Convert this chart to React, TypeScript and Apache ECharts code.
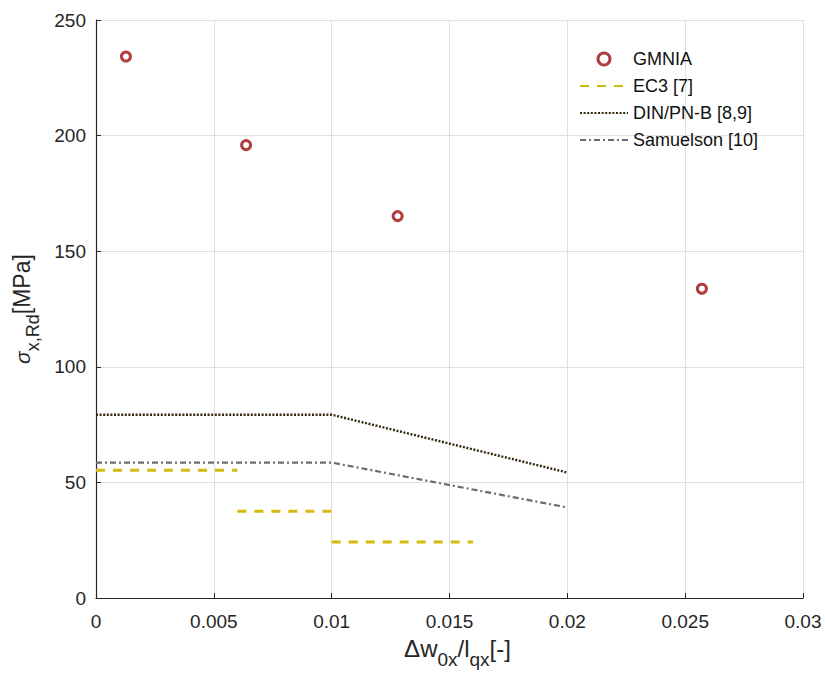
import React, { useEffect, useRef } from "react";
import * as echarts from "echarts";

// ---- data ----
const gmniaX = [0.00127, 0.00637, 0.0128, 0.02571];
const gmniaY = [234.2, 195.9, 165.2, 133.8];

const ec3Segments = [
  [0, 0.006],
  [0.006, 0.01],
  [0.01, 0.016],
];
const ec3Y = [55.3, 37.6, 24.3];

const dinX = [0, 0.01, 0.02];
const dinY = [79.3, 79.3, 54.3];

const samX = [0, 0.01, 0.02];
const samY = [58.6, 58.6, 39.2];

const xTicks = [0, 0.005, 0.01, 0.015, 0.02, 0.025, 0.03];
const yTicks = [0, 50, 100, 150, 200, 250];

const names = ["GMNIA", "EC3 [7]", "DIN/PN-B [8,9]", "Samuelson [10]"];

const FONT = "'Liberation Sans', Arial, Helvetica, sans-serif";
const AXIS_COLOR = "#262626";

export default function App() {
  const ref = useRef<HTMLDivElement>(null);

  useEffect(() => {
    document.body.style.margin = "0";
    if (!ref.current) return;
    const chart = echarts.init(ref.current, undefined, { renderer: "svg" });

    const ec3Series = ec3Segments.map((seg, i) => ({
      name: names[1],
      type: "line",
      data: seg.map((x) => [x, ec3Y[i]]),
      symbol: "none",
      lineStyle: { color: "#d4ba0c", width: 3, type: [9, 8] },
      itemStyle: { color: "#d4ba0c" },
      z: 3,
    }));

    const option: any = {
      animation: false,
      backgroundColor: "#ffffff",
      textStyle: { fontFamily: FONT },
      grid: { left: 96, right: 22, top: 20, bottom: 74.5, containLabel: false },
      legend: {
        orient: "vertical",
        left: 574,
        top: 45,
        itemWidth: 48,
        itemHeight: 12,
        itemGap: 9,
        data: [
          { name: names[0], itemStyle: { borderWidth: 3, borderColor: "#9c0d12", color: "#ffffff" } },
          { name: names[1], itemStyle: { opacity: 0 } },
          { name: names[2], itemStyle: { opacity: 0 } },
          { name: names[3], itemStyle: { opacity: 0 } },
        ],
        textStyle: { fontSize: 18, color: "#111", fontFamily: FONT },
      },
      xAxis: {
        type: "value",
        min: 0,
        max: 0.03,
        interval: 0.005,
        axisLine: { show: true, lineStyle: { color: AXIS_COLOR, width: 1.2 } },
        axisTick: { show: true, inside: true, length: 5, lineStyle: { color: AXIS_COLOR } },
        splitLine: { show: true, lineStyle: { color: "#dfdfdf", width: 1 } },
        axisLabel: {
          fontSize: 19,
          color: AXIS_COLOR,
          margin: 14,
          fontFamily: FONT,
          formatter: (v: number) => {
            const t = xTicks.find((k) => Math.abs(k - v) < 1e-9);
            return String(t !== undefined ? t : v);
          },
        },
        name: "{m|Δw}{s|0x}{m|/l}{s|qx}{m|[-]}",
        nameLocation: "middle",
        nameGap: 45,
        nameTextStyle: {
          padding: [0, 0, 0, 16],
          rich: {
            m: { fontSize: 24, lineHeight: 24, padding: [0, 0, 9, 0], verticalAlign: "bottom", color: AXIS_COLOR, fontFamily: FONT },
            s: { fontSize: 19, lineHeight: 19, verticalAlign: "bottom", color: AXIS_COLOR, fontFamily: FONT },
          },
        },
      },
      yAxis: {
        type: "value",
        min: 0,
        max: 250,
        interval: 50,
        axisLine: { show: true, lineStyle: { color: AXIS_COLOR, width: 1.2 } },
        axisTick: { show: true, inside: true, length: 5, lineStyle: { color: AXIS_COLOR } },
        splitLine: { show: true, lineStyle: { color: "#dfdfdf", width: 1 } },
        axisLabel: {
          fontSize: 19,
          color: AXIS_COLOR,
          margin: 10,
          fontFamily: FONT,
          formatter: (v: number) => {
            const t = yTicks.find((k) => Math.abs(k - v) < 1e-9);
            return String(t !== undefined ? t : v);
          },
        },
        name: "{g|σ}{s|x,Rd}{m|[MPa]}",
        nameLocation: "middle",
        nameRotate: 90,
        nameGap: 54,
        nameTextStyle: {
          rich: {
            g: { fontSize: 21, lineHeight: 21, fontStyle: "italic", padding: [0, 0, 9, 0], verticalAlign: "bottom", color: AXIS_COLOR, fontFamily: FONT },
            m: { fontSize: 23, lineHeight: 23, padding: [0, 0, 9, 0], verticalAlign: "bottom", color: AXIS_COLOR, fontFamily: FONT },
            s: { fontSize: 18, lineHeight: 18, verticalAlign: "bottom", color: AXIS_COLOR, fontFamily: FONT },
          },
        },
      },
      series: [
        {
          name: names[0],
          type: "scatter",
          data: gmniaX.map((x, i) => [x, gmniaY[i]]),
          symbol: "circle",
          symbolSize: 9,
          itemStyle: { color: "#ffffff", borderColor: "#9c0d12", borderWidth: 3 },
          z: 5,
        },
        ...ec3Series,
        {
          name: names[2],
          type: "line",
          data: dinX.map((x, i) => [x, dinY[i]]),
          symbol: "none",
          lineStyle: { color: "#33270a", width: 2.4, type: [2, 1.6] },
          itemStyle: { color: "#33270a" },
          z: 4,
        },
        {
          name: names[3],
          type: "line",
          data: samX.map((x, i) => [x, samY[i]]),
          symbol: "none",
          lineStyle: { color: "#6a6a76", width: 2.2, type: [6, 3, 2, 3] },
          itemStyle: { color: "#6a6a76" },
          z: 4,
        },
      ],
    };

    chart.setOption(option);
    return () => chart.dispose();
  }, []);

  return <div ref={ref} style={{ width: 825, height: 674 }} />;
}
